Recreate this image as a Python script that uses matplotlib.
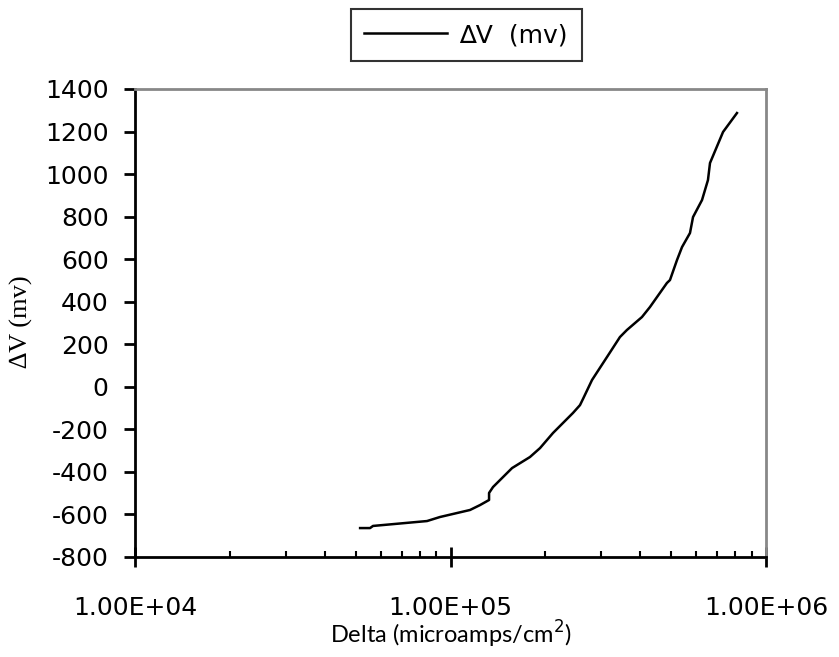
import numpy as np
import matplotlib
matplotlib.use('Agg')
import matplotlib.pyplot as plt
from matplotlib.ticker import FixedLocator, FixedFormatter, LogLocator, NullFormatter

# current density (microamps/cm^2) and potential shift (mv)
delta = [51700, 55600, 56800, 84250, 92600, 115300, 124000, 132500, 132500,
         136400, 156700, 178600, 192200, 211300, 244400, 257300, 263000,
         280900, 313300, 344400, 362300, 404400, 428700, 485200, 496200,
         522300, 541800, 574200, 587100, 626900, 654700, 664500, 730900,
         809000]
dv = [-664, -664, -654, -631, -612, -579, -556, -532, -499,
      -471, -382, -330, -288, -217, -123, -86, -57,
      32, 140, 234, 267, 328, 375, 488, 502,
      596, 657, 723, 798, 878, 972, 1052, 1198,
      1287]

xticks = [1e4, 1e5, 1e6]
xtick_labels = ['1.00E+04', '1.00E+05', '1.00E+06']
yticks = list(range(-800, 1401, 200))

fig = plt.figure(figsize=(8.39, 6.57), dpi=100)
ax = fig.add_axes([135/839, 1-557/657, 631/839, 468/657])

line, = ax.plot(delta, dv, color='black', lw=1.8, label='\u2206V  (mv)')

ax.set_xscale('log')
ax.set_xlim(1e4, 1e6)
ax.set_ylim(-800, 1400)

ax.xaxis.set_major_locator(FixedLocator(xticks))
ax.xaxis.set_major_formatter(FixedFormatter(xtick_labels))
ax.xaxis.set_minor_locator(LogLocator(base=10, subs=np.arange(2, 10)))
ax.xaxis.set_minor_formatter(NullFormatter())
ax.set_yticks(yticks)
ax.set_yticklabels([str(v) for v in yticks])

for s in ['left', 'bottom']:
    ax.spines[s].set_color('black')
    ax.spines[s].set_linewidth(2)
for s in ['top', 'right']:
    ax.spines[s].set_color('#888888')
    ax.spines[s].set_linewidth(2)

ax.tick_params(axis='x', which='major', direction='inout', length=14, width=2,
               pad=21, labelsize=18)
ax.tick_params(axis='x', which='minor', direction='in', length=4, width=1.5)
ax.tick_params(axis='y', which='major', direction='out', length=8, width=2,
               pad=11, labelsize=18)
for lab in ax.get_xticklabels() + ax.get_yticklabels():
    lab.set_family('DejaVu Sans')

ax.set_ylabel('\u2206V (mv)', family='Liberation Serif', fontsize=19)
ax.yaxis.set_label_coords(-0.162, 0.502)
ax.set_xlabel('Delta (microamps/cm$^2$)', family='Lato', fontsize=17)
ax.xaxis.set_label_coords(0.5, -0.132)

leg = fig.legend(handles=[line], loc='center', bbox_to_anchor=(466/839, 1-35/657),
                 frameon=True, fancybox=False, edgecolor='black',
                 prop={'family': 'DejaVu Sans', 'size': 18},
                 handlelength=3.3, handletextpad=0.5, borderpad=0.55,
                 borderaxespad=0)
leg.get_frame().set_linewidth(1.5)

fig.savefig('out.png', dpi=100)
